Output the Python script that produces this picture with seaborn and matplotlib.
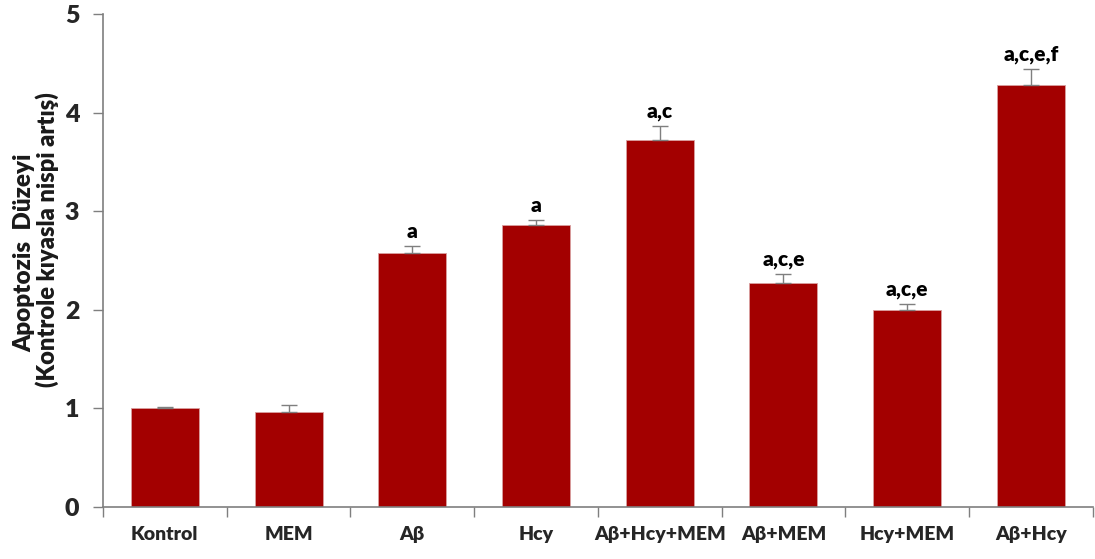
import matplotlib
matplotlib.use("Agg")
import matplotlib.pyplot as plt
import seaborn as sns
import pandas as pd
import numpy as np

groups = ["Kontrol", "MEM", "Aβ", "Hcy", "Aβ+Hcy+MEM", "Aβ+MEM", "Hcy+MEM", "Aβ+Hcy"]
apoptosis = [1.00, 0.96, 2.58, 2.86, 3.72, 2.27, 2.00, 4.28]
sem = [0.01, 0.07, 0.07, 0.05, 0.14, 0.09, 0.06, 0.16]
letters = ["", "", "a", "a", "a,c", "a,c,e", "a,c,e", "a,c,e,f"]

sns.set_theme(style="white")
plt.rcParams["font.family"] = ["Lato", "DejaVu Sans"]
plt.rcParams["font.weight"] = "heavy"

df = pd.DataFrame({"group": groups, "value": apoptosis})

fig = plt.figure(figsize=(10.95, 5.59), dpi=100)
ax = fig.add_axes([0.094, 0.093, 0.904, 0.882])

bar_color = "#A30000"
sns.barplot(data=df, x="group", y="value", color=bar_color, saturation=1,
            width=0.55, errorbar=None, ax=ax, edgecolor="#D9A0A0", linewidth=0.6)

x = np.arange(len(groups))
ax.errorbar(x, apoptosis, yerr=[np.zeros(len(sem)), sem], fmt="none",
            ecolor="#7F7F7F", elinewidth=1.0, capsize=6, capthick=1.0, zorder=3)

for xi, v, e, lab in zip(x, apoptosis, sem, letters):
    if lab:
        ax.text(xi, v + e + 0.05, lab, ha="center", va="bottom",
                fontsize=15, fontweight="heavy", color="black")

ax.set_xlim(-0.5, len(groups) - 0.5)
ax.set_ylim(0, 5)
ax.set_yticks([0, 1, 2, 3, 4, 5])
ax.set_yticklabels(["0", "1", "2", "3", "4", "5"], fontsize=18, fontweight="heavy")

# category labels centred, tick marks on the boundaries between groups
ax.set_xticks(np.arange(-0.5, len(groups), 1.0))
ax.set_xticklabels([])
ax.set_xticks(x, minor=True)
ax.set_xticklabels(groups, minor=True, fontsize=14, fontweight="heavy")
ax.tick_params(axis="x", which="major", bottom=True, direction="out", length=7,
               width=1, color="#7F7F7F")
ax.tick_params(axis="x", which="minor", bottom=True, length=0, pad=14)
ax.tick_params(axis="y", left=True, direction="out", length=7, width=1,
               color="#7F7F7F", pad=10)

ax.set_xlabel("")
ax.set_ylabel("")
# two-line axis title, the first line set slightly larger
fig.text(0.022, 0.547, "Apoptozis  Düzeyi", rotation=90, ha="center", va="center",
         fontsize=17.5, fontweight="heavy", color="#1a1a1a")
fig.text(0.043, 0.572, "(Kontrole kıyasla nispi artış)", rotation=90, ha="center",
         va="center", fontsize=17, fontweight="heavy", color="#1a1a1a")

for side in ["top", "right"]:
    ax.spines[side].set_visible(False)
for side in ["left", "bottom"]:
    ax.spines[side].set_color("#7F7F7F")
    ax.spines[side].set_linewidth(1.2)

fig.savefig("out.png", dpi=100, facecolor="white")
